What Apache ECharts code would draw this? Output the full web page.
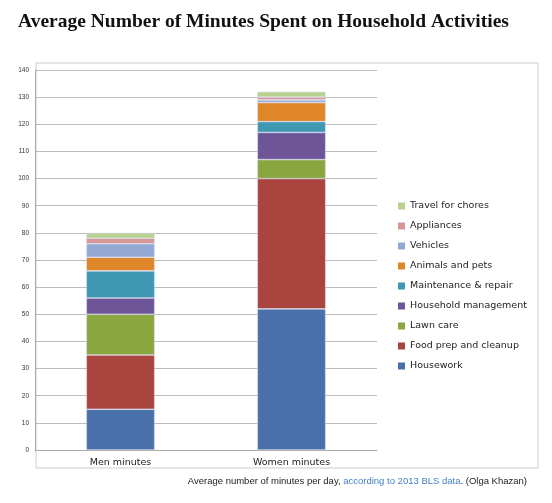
<!DOCTYPE html>
<html><head><meta charset="utf-8">
<script src="https://cdn.jsdelivr.net/npm/echarts@6/dist/echarts.min.js"></script>
<style>body{margin:0;background:#fff}#c{width:552px;height:503px}</style>
</head><body><div id="c"></div>
<script>
const categories = ['Men minutes', 'Women minutes'];
const seriesNames = ['Housework', 'Food prep and cleanup', 'Lawn care', 'Household management',
  'Maintenance & repair', 'Animals and pets', 'Vehicles', 'Appliances', 'Travel for chores'];
const men = [15, 20, 15, 6, 10, 5, 5, 2, 2];
const women = [52, 48, 7, 10, 4, 7, 1, 1, 2];
const colors = ['#4a70aa', '#a9443f', '#8aa63f', '#6d5597', '#3f97b1', '#df8629', '#93a9d4', '#d69696', '#b9d18f'];

const chart = echarts.init(document.getElementById('c'));
chart.setOption({
  title: {text: 'Average Number of Minutes Spent on Household Activities', left: 13, top: 7,
    textStyle: {fontFamily: 'Liberation Serif', fontWeight: 'bold', fontSize: 19.5, color: '#111'}},
  graphic: [
    {type: 'rect', shape: {x: 36, y: 63, width: 502, height: 405}, style: {fill: 'none', stroke: '#ccc', lineWidth: 1}},
    {type: 'text', right: 25, top: 476, style: {rich: {a: {fill: '#222'}, b: {fill: '#3f7fc4'}},
      text: '{a|Average number of minutes per day, }{b|according to 2013 BLS data}{a|. (Olga Khazan)}',
      font: '9.5px Liberation Sans'}}
  ],
  legend: {orient: 'vertical', left: 393, top: 196, itemWidth: 7, itemHeight: 7, itemGap: 10,
    icon: 'rect', data: seriesNames.slice().reverse(), itemStyle: {borderWidth: 0},
    textStyle: {fontSize: 9.5, color: '#222', fontFamily: 'DejaVu Sans'}},
  grid: {left: 35, right: 175, top: 70, bottom: 53},
  xAxis: {type: 'category', data: categories,
    axisLine: {lineStyle: {color: '#aaa'}}, axisTick: {alignWithLabel: false, lineStyle: {color: '#aaa'}},
    axisLabel: {color: '#222', fontSize: 9.5, margin: 8, fontFamily: 'DejaVu Sans'}},
  yAxis: {type: 'value', min: 0, max: 140, interval: 10,
    axisLine: {show: true, lineStyle: {color: '#aaa'}},
    axisLabel: {color: '#333', fontSize: 6.5, margin: 6},
    splitLine: {lineStyle: {color: '#bbb'}}},
  series: seriesNames.map((n, i) => ({
    name: n, type: 'bar', stack: 'total', barWidth: '40%',
    itemStyle: {color: colors[i], borderColor: '#dde', borderWidth: 0.6},
    data: [men[i], women[i]]
  }))
});
</script></body></html>
